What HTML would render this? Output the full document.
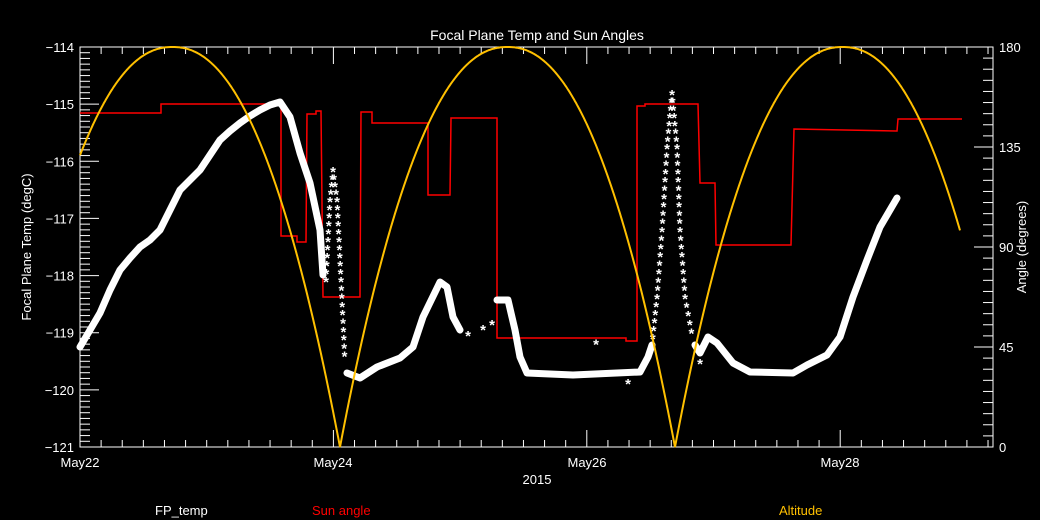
<!DOCTYPE html>
<html><head><meta charset="utf-8"><style>
html,body{margin:0;padding:0;background:#000;}
svg{display:block;}
text{font-family:"Liberation Sans",sans-serif;font-size:13px;fill:#fff;}
</style></head><body>
<svg id="s" width="1040" height="520" viewBox="0 0 1040 520" xmlns="http://www.w3.org/2000/svg">
<rect width="1040" height="520" fill="#000"/>
<g id="g"></g>
<text x="537" y="40" text-anchor="middle" style="font-size:14px">Focal Plane Temp and Sun Angles</text>
<text x="537" y="484" text-anchor="middle">2015</text>
<text x="80" y="467" text-anchor="middle">May22</text>
<text x="333" y="467" text-anchor="middle">May24</text>
<text x="587" y="467" text-anchor="middle">May26</text>
<text x="840" y="467" text-anchor="middle">May28</text>
<text x="155" y="515">FP_temp</text>
<text x="312" y="515" style="fill:#ff0000">Sun angle</text>
<text x="779" y="515" style="fill:#ffc000">Altitude</text>
<text transform="translate(31,247) rotate(-90)" text-anchor="middle">Focal Plane Temp (degC)</text>
<text transform="translate(1026,247) rotate(-90)" text-anchor="middle">Angle (degrees)</text>
</svg>
<script>
const NS="http://www.w3.org/2000/svg";const g=document.getElementById('g');
function el(t,a){const e=document.createElementNS(NS,t);for(const k in a)e.setAttribute(k,a[k]);g.appendChild(e);return e;}
const L=80,R=993,T=47,B=447;
el('rect',{x:L,y:T,width:R-L,height:B-T,fill:'none',stroke:'#fff','stroke-width':1});
const day=126.7;
for(let i=0;i<=43;i++){const x=L+i*day/6;if(x>R)break;const maj=(i%12==0);const len=maj?17:7;
el('line',{x1:x,y1:B,x2:x,y2:B-len,stroke:'#fff'});el('line',{x1:x,y1:T,x2:x,y2:T+len,stroke:'#fff'});}
for(let i=0;i<=70;i++){const y=T+i*(B-T)/70;const maj=i%10==0;const len=maj?19:10;el('line',{x1:L,y1:y,x2:L+len,y2:y,stroke:'#fff'});
if(maj){const t=el('text',{x:L-6,y:y+5,'text-anchor':'end'});t.textContent='\u2212'+(114+i/10);}}
for(let i=0;i<=36;i++){const y=T+i*(B-T)/36;const maj=i%9==0;const len=maj?19:10;el('line',{x1:R,y1:y,x2:R-len,y2:y,stroke:'#fff'});
if(maj){const t=el('text',{x:R+6,y:y+5});t.textContent=String(180-i*5);}}
let p=[];for(let x=80;x<=960;x+=1){let u=((x-340)/335)%1;if(u<0)u+=1;let f=Math.abs(u-0.5)*2;let a=180*(1-Math.pow(f,2.2));p.push(x+','+(B-a/180*400).toFixed(1));}
const red=[[80,113],[161,113],[161,104],[281,104],[281,236],[297,236],[297,242],[306,242],[307,114],[316,114],[316,111],[321,111],[323,297],[360,297],[361,112],[372,112],[372,123],[428,123],[428,195],[450,195],[451,118],[497,118],[497,338],[626,338],[626,341],[637,341],[637,106],[645,106],[645,104],[698,104],[700,183],[715,183],[716,245],[791,245],[794,129],[897,131],[898,119],[962,119]];
el('polyline',{points:red.map(a=>a.join(',')).join(' '),fill:'none',stroke:'#ff0000','stroke-width':1.5});
const dense=[[[80,347],[90,330],[100,313],[110,290],[120,270],[130,258],[140,247],[150,240],[160,230],[170,210],[180,190],[190,180],[200,170],[210,155],[220,140],[230,131],[240,123],[250,116],[260,110],[270,105],[280,102],[290,117],[300,153],[310,183],[320,230],[323,275]],
[[347,373],[360,378],[377,367],[400,358],[413,347],[423,317],[440,282],[447,287],[453,317],[460,330]],
[[497,300],[508,300],[515,330],[520,357],[527,373],[573,375],[640,372],[648,357],[652,345]],
[[695,345],[700,353],[708,337],[717,343],[733,363],[750,372],[793,373],[807,365],[827,355],[840,337],[853,297],[867,260],[880,227],[897,198]]];
for(const d of dense)el('polyline',{points:d.map(a=>a.join(',')).join(' '),fill:'none',stroke:'#fff','stroke-width':7,'stroke-linejoin':'round','stroke-linecap':'round'});
function stars(pts,sp){for(let i=0;i<pts.length-1;i++){const[a,b]=[pts[i],pts[i+1]];const d=Math.hypot(b[0]-a[0],b[1]-a[1]);const n=Math.max(1,Math.round(d/sp));for(let k=0;k<n;k++){const x=a[0]+(b[0]-a[0])*k/n,y=a[1]+(b[1]-a[1])*k/n;const t=el('text',{x:x,y:y+7,'text-anchor':'middle',style:'font-size:15px;font-weight:bold'});t.textContent='*';}}}
stars([[326,280],[330,200],[333,170],[337,200],[341,280],[345,363]],8);
stars([[652,345],[657,297],[662,230],[667,147],[672,93],[677,147],[680,230],[685,297],[693,340]],8);
stars([[468,334],[483,328],[492,323],[700,362],[628,382],[636,385]],100);
el('polyline',{points:p.join(' '),fill:'none',stroke:'#ffc000','stroke-width':2});
</script>
</body></html>
